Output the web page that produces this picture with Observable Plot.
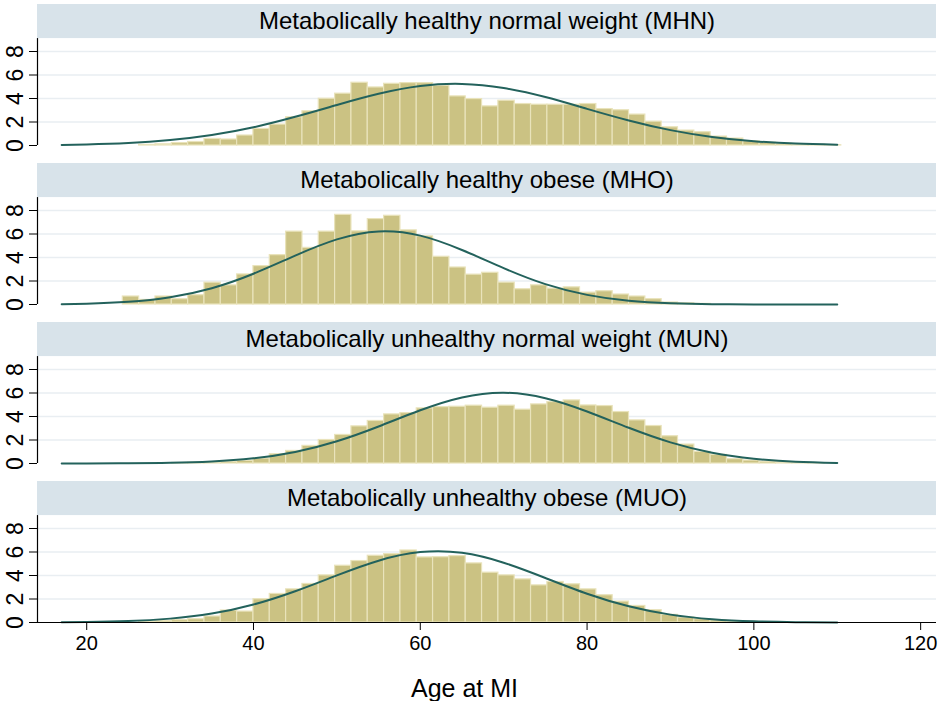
<!DOCTYPE html>
<html><head><meta charset="utf-8">
<script src="https://cdn.jsdelivr.net/npm/d3@7"></script>
<script src="https://cdn.jsdelivr.net/npm/@observablehq/plot@0.6"></script>
<style>body{margin:0;background:#fff} svg{display:block}</style>
</head><body><div id="chart"></div>
<script>
const groups = ["MHN", "MHO", "MUN", "MUO"];
const titles = [
  "Metabolically healthy normal weight (MHN)",
  "Metabolically healthy obese (MHO)",
  "Metabolically unhealthy normal weight (MUN)",
  "Metabolically unhealthy obese (MUO)"
];
const binStart = 16.5, binWidth = 1.958;
const barsMHN = [0,0,0,0,0,0.05,0.1,0.2,0.3,0.56,0.51,0.85,1.41,1.78,2.4,2.91,3.98,4.41,5.34,4.94,5.25,5.31,5.31,5.08,4.18,3.95,3.33,3.81,3.53,3.47,3.47,3.47,3.53,3.1,3.0,2.63,2.03,1.55,1.27,1.13,0.76,0.59,0.37,0.23,0.15,0.1,0.05,0.02];
const barsMHO = [0,0,0,0,0.68,0.39,0.68,0.45,0.79,1.86,1.63,2.56,3.27,4.2,6.2,4.82,6.2,7.63,6.23,7.27,7.55,6.31,5.8,4.06,3.15,2.54,2.7,1.86,1.3,1.63,1.35,1.46,1.01,1.13,0.85,0.68,0.45,0.17,0.1,0.05,0,0,0,0,0,0,0,0];
const barsMUN = [0,0,0,0,0,0,0,0.04,0.06,0.1,0.15,0.23,0.42,0.79,1.07,1.5,2.0,2.43,3.16,3.62,4.18,4.29,4.69,4.8,4.83,4.92,4.75,4.92,4.58,5.03,5.23,5.37,4.94,4.89,4.38,3.67,3.19,2.32,1.61,0.99,0.73,0.37,0.25,0.15,0.1,0.05,0.02,0];
const barsMUO = [0,0,0,0,0,0.06,0.12,0.2,0.28,0.51,1.02,0.93,1.98,2.43,2.82,3.28,4.01,4.83,5.23,5.68,5.82,6.13,5.54,5.56,5.65,5.03,4.24,4.01,3.67,3.16,3.45,3.25,2.82,2.32,1.78,1.41,1.05,0.65,0.42,0.28,0.17,0.1,0.05,0,0,0,0,0];

const curveAges = [17,20,25,30,35,40,45,50,55,60,65,70,75,80,85,90,95,100,105,110];
const curveMHN = [0.05,0.09,0.21,0.46,0.89,1.55,2.44,3.45,4.40,5.06,5.24,4.89,4.12,3.12,2.13,1.31,0.73,0.36,0.16,0.07];
const curveMHO = [0.03,0.07,0.23,0.62,1.39,2.62,4.16,5.54,6.22,5.86,4.64,3.09,1.73,0.82,0.32,0.11,0.03,0.01,0.00,0.00];
const curveMUN = [0.00,0.00,0.02,0.06,0.17,0.44,0.98,1.89,3.15,4.53,5.62,6.02,5.56,4.43,3.04,1.80,0.92,0.41,0.15,0.05];
const curveMUO = [0.02,0.04,0.12,0.33,0.76,1.53,2.66,4.01,5.26,5.99,5.93,5.09,3.79,2.45,1.38,0.67,0.28,0.10,0.03,0.01];

const yTicks = [0, 2, 4, 6, 8];
const gridTicks = [2, 4, 6, 8];
const xTicks = [20, 40, 60, 80, 100, 120];
const xLabel = "Age at MI";

const xDomain = [14.1, 121.9];
const yTop = 12, axisTop = 9.1;

const bars = [];
[barsMHN, barsMHO, barsMUN, barsMUO].forEach((arr, g) => arr.forEach((v, i) => {
  if (v > 0) bars.push({g: groups[g], x1: binStart + i * binWidth, x2: binStart + (i + 1) * binWidth, y: v});
}));
const curves = [];
[curveMHN, curveMHO, curveMUN, curveMUO].forEach((arr, g) => arr.forEach((v, i) => {
  curves.push({g: groups[g], x: curveAges[i], y: v});
}));
const headers = groups.map((g, i) => ({g, title: titles[i]}));
const bottom = [{g: groups[groups.length - 1]}];

const chart = Plot.plot({
  width: 945, height: 701,
  marginLeft: 37, marginRight: 9, marginTop: 3, marginBottom: 79,
  style: {fontFamily: "'Liberation Sans', Arial, sans-serif", background: "#fff", color: "#000"},
  x: {domain: xDomain},
  y: {domain: [0, yTop]},
  fy: {domain: groups, paddingInner: 0.115, paddingOuter: 0, axis: null},
  marks: [
    Plot.rect(headers, {fy: "g", x1: () => xDomain[0], x2: () => xDomain[1], y1: () => axisTop, y2: () => yTop, fill: "#d8e3ea"}),
    Plot.text(headers, {fy: "g", x: () => (xDomain[0] + xDomain[1]) / 2, y: () => (axisTop + yTop) / 2, text: "title", fontSize: 24, fill: "#000"}),
    Plot.ruleY(gridTicks, {stroke: "#e9eef2", strokeWidth: 1.5}),
    Plot.rectY(bars, {fy: "g", x1: "x1", x2: "x2", y: "y", fill: "#cbc283", stroke: "#e9e3bb", strokeWidth: 1.2}),
    Plot.line(curves, {fy: "g", x: "x", y: "y", z: "g", curve: "natural", stroke: "#23625c", strokeWidth: 2}),
    Plot.ruleX([xDomain[0]], {y1: () => 0, y2: () => axisTop, stroke: "#000", strokeWidth: 1.2}),
    Plot.ruleY(bottom, {fy: "g", y: () => 0, stroke: "#000", strokeWidth: 1.2}),
    Plot.axisY({ticks: yTicks, tickSize: 8, label: null, tickFormat: () => ""}),
    Plot.text(yTicks, {x: () => xDomain[0], y: d => d, text: d => String(d), rotate: -90, dx: -22, fontSize: 23, fill: "#000"}),
    Plot.axisX({ticks: xTicks, tickSize: 8, fontSize: 20, tickPadding: 5, label: null}),
    Plot.text(bottom, {fy: "g", x: () => 65.3, y: () => 0, dy: 66, text: () => xLabel, fontSize: 25, fill: "#000"})
  ]
});
document.getElementById("chart").appendChild(chart);
</script>
</body></html>
